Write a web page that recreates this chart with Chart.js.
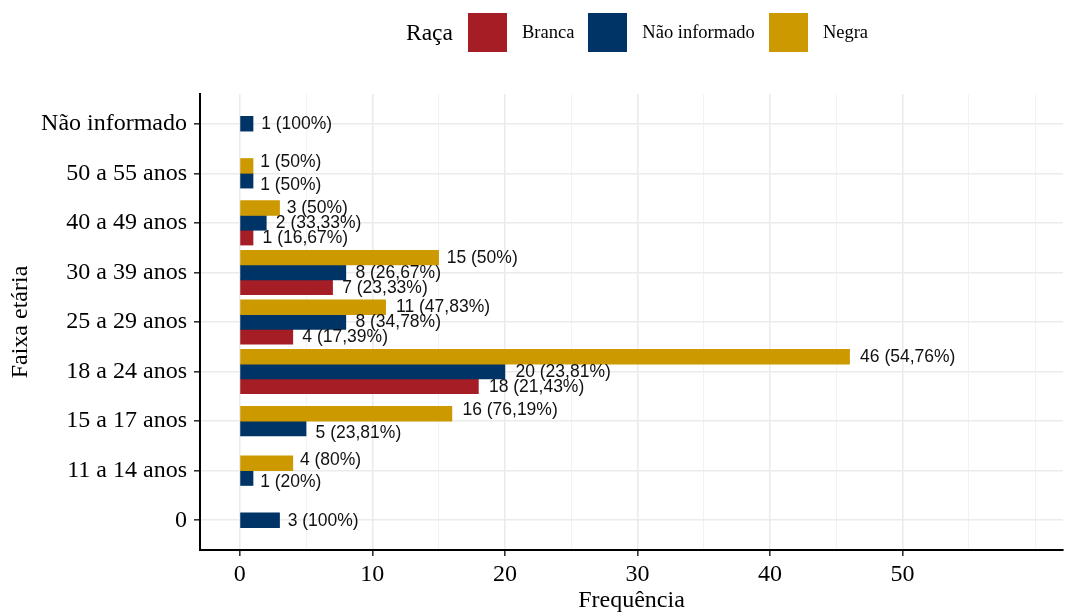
<!DOCTYPE html>
<html>
<head>
<meta charset="utf-8">
<script src="https://cdn.jsdelivr.net/npm/chart.js@4"></script>
<style>
  html, body { margin: 0; padding: 0; background: #fff; }
  #wrap { position: relative; width: 1065px; height: 613px; overflow: hidden; }
  #chart { position: absolute; left: 0; top: 0; }
  #legend {
    position: absolute; left: 406px; top: 13px; height: 39px;
    display: flex; align-items: center;
    font-family: "Liberation Serif", "Times New Roman", serif; color: #000;
  }
  #legend .title { font-size: 23.5px; margin-right: 15px; }
  #legend .box { width: 39px; height: 39px; }
  #legend .lbl { font-size: 18.5px; margin-left: 15px; margin-right: 14px; }
</style>
</head>
<body>
<div id="wrap">
  <canvas id="chart" width="1065" height="613"></canvas>
  <div id="legend"></div>
</div>
<script>
  // categories, top to bottom
  const categories = ['Não informado', '50 a 55 anos', '40 a 49 anos', '30 a 39 anos',
    '25 a 29 anos', '18 a 24 anos', '15 a 17 anos', '11 a 14 anos', '0'];

  const branca = [null, null, 1, 7, 4, 18, null, null, null];
  const naoInformado = [1, 1, 2, 8, 8, 20, 5, 1, 3];
  const negra = [null, 1, 3, 15, 11, 46, 16, 4, null];

  const brancaPct = [null, null, '16,67', '23,33', '17,39', '21,43', null, null, null];
  const naoInformadoPct = ['100', '50', '33,33', '26,67', '34,78', '23,81', '23,81', '20', '100'];
  const negraPct = [null, '50', '50', '50', '47,83', '54,76', '76,19', '80', null];

  const xLabelTicks = [0, 10, 20, 30, 40, 50];
  const xGridTicks = [0, 5, 10, 15, 20, 25, 30, 35, 40, 45, 50, 55, 60];

  const colors = {
    branca: '#A51D25',
    naoInformado: '#003366',
    negra: '#CC9900',
  };

  const series = [
    { name: 'Negra', values: negra, pct: negraPct, color: colors.negra },
    { name: 'Não informado', values: naoInformado, pct: naoInformadoPct, color: colors.naoInformado },
    { name: 'Branca', values: branca, pct: brancaPct, color: colors.branca },
  ];

  // html legend (ggplot order)
  const legendEl = document.getElementById('legend');
  legendEl.innerHTML = '<span class="title">Raça</span>' +
    series.slice().reverse().map((s) =>
      '<span class="box" style="background:' + s.color + '"></span><span class="lbl">' + s.name + '</span>'
    ).join('');

  const serif = '"Liberation Serif", "Times New Roman", serif';

  // text labels are dodged like geom_text (width 0.9 split over the bars present)
  const barLabels = {
    id: 'barLabels',
    afterDatasetsDraw(chart) {
      const ctx = chart.ctx;
      const yScale = chart.scales.y;
      ctx.save();
      ctx.font = '17.5px "Liberation Sans", Arial, sans-serif';
      ctx.fillStyle = '#111';
      ctx.textAlign = 'left';
      ctx.textBaseline = 'middle';
      categories.forEach((cat, i) => {
        const present = series.map((s, di) => di).filter((di) => series[di].values[i] !== null);
        const n = present.length;
        present.forEach((di, k) => {
          const el = chart.getDatasetMeta(di).data[i];
          const txt = series[di].values[i] + ' (' + series[di].pct[i] + '%)';
          const off = (k - (n - 1) / 2) * 0.9 / n;
          const w = ctx.measureText(txt).width;
          ctx.fillText(txt, el.x + 0.1 * w + 1, yScale.getPixelForValue(i + off) + 0.5);
        });
      });
      ctx.restore();
    },
  };

  new Chart(document.getElementById('chart'), {
    type: 'bar',
    data: {
      datasets: series.map((s) => ({
        label: s.name,
        data: s.values.map((v, i) => ({ x: v, y: i })),
        backgroundColor: s.color,
        borderWidth: 0,
        barThickness: 14.8,
      })),
    },
    options: {
      indexAxis: 'y',
      responsive: false,
      animation: false,
      skipNull: true,
      layout: { padding: { top: 94, left: 0, right: 2, bottom: 0 } },
      plugins: {
        legend: { display: false },
        tooltip: { enabled: false },
      },
      scales: {
        x: {
          type: 'linear',
          min: -3,
          max: 62.1,
          afterBuildTicks: (axis) => { axis.ticks = xGridTicks.map((v) => ({ value: v })); },
          afterFit: (scale) => { scale.height = 63; },
          border: { display: true, color: '#000', width: 2 },
          grid: {
            color: (c) => (xLabelTicks.includes(c.tick.value) ? '#EBEBEB' : '#F2F2F2'),
            lineWidth: (c) => (xLabelTicks.includes(c.tick.value) ? 1.6 : 1),
            tickColor: (c) => (xLabelTicks.includes(c.tick.value) ? '#333' : 'rgba(0,0,0,0)'),
            tickLength: 6,
          },
          ticks: {
            autoSkip: false,
            maxRotation: 0,
            padding: 4,
            color: '#000',
            font: { family: serif, size: 24 },
            callback: (v) => (xLabelTicks.includes(v) ? String(v) : ''),
          },
          title: {
            display: true,
            text: 'Frequência',
            color: '#000',
            font: { family: serif, size: 24, lineHeight: 1.0 },
            padding: 0,
          },
        },
        y: {
          type: 'linear',
          reverse: true,
          offset: false,
          min: -0.6,
          max: 8.6,
          afterBuildTicks: (axis) => { axis.ticks = categories.map((c, i) => ({ value: i })); },
          afterFit: (scale) => { scale.width = 200; },
          border: { display: true, color: '#000', width: 2 },
          grid: {
            offset: false,
            color: '#EBEBEB',
            lineWidth: 1.6,
            tickColor: '#333',
            tickLength: 6,
          },
          ticks: {
            autoSkip: false,
            padding: 7,
            color: '#000',
            font: { family: serif, size: 24 },
            callback: (v) => categories[v],
          },
          title: {
            display: true,
            text: 'Faixa etária',
            color: '#000',
            font: { family: serif, size: 24 },
            padding: { top: 6, bottom: 0 },
          },
        },
      },
    },
    plugins: [barLabels],
  });
</script>
</body>
</html>
